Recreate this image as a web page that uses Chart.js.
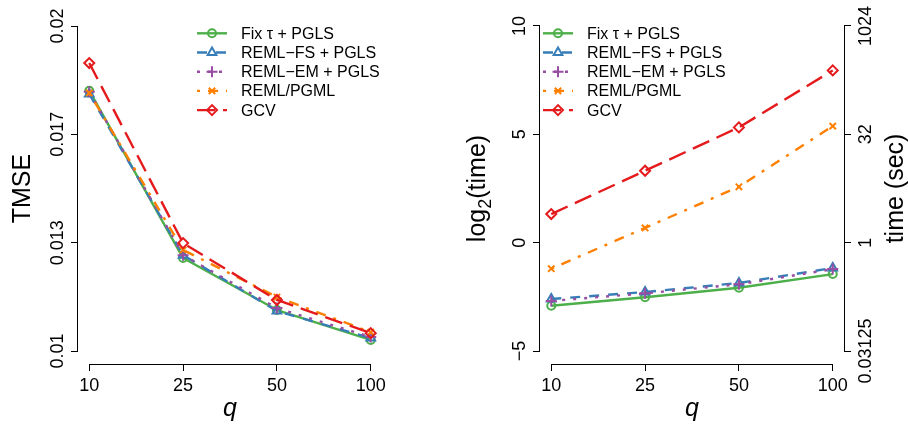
<!DOCTYPE html>
<html>
<head>
<meta charset="utf-8">
<script src="https://cdn.jsdelivr.net/npm/chart.js@4.4.0/dist/chart.umd.min.js"></script>
<style>
body { margin: 0; background: #fff; }
#wrap { position: relative; width: 908px; height: 424px; }
canvas { position: absolute; top: 0; }
</style>
</head>
<body>
<div id="wrap">
<canvas id="tmseChart" width="454" height="424" style="left:0"></canvas>
<canvas id="timeChart" width="454" height="424" style="left:454px"></canvas>
</div>
<script>
const FONT = '"Liberation Sans", Arial, Helvetica, sans-serif';

const qLabels = ['10', '25', '50', '100'];
const seriesNames = ['Fix \u03C4 + PGLS', 'REML\u2212FS + PGLS', 'REML\u2212EM + PGLS', 'REML/PGML', 'GCV'];
const seriesColors = ['#4DAF4A', '#377EB8', '#984EA3', '#FF7F00', '#E41A1C'];
const pointStyles = ['circle', 'triangle', 'cross', 'crossRot', 'rectRot'];
const pointSizes = [4, 5, 5.5, 4.5, 5];
const dashes = [[], [10, 9], [3, 8], [3, 8, 10, 8], [18, 8]];

// left panel: TMSE
const tmseFixTau = [0.01801, 0.01286, 0.01126, 0.01034];
const tmseRemlFs = [0.01791, 0.01295, 0.01123, 0.01040];
const tmseRemlEm = [0.01798, 0.01295, 0.01132, 0.01043];
const tmseRemlPgml = [0.01794, 0.01311, 0.01166, 0.01058];
const tmseGcv = [0.01886, 0.01332, 0.01157, 0.01055];
const tmseTickValues = [0.01, 0.0133333, 0.0166667, 0.02];
const tmseTickLabels = ['0.01', '0.013', '0.017', '0.02'];

// right panel: log2(time)
const timeFixTau = [-2.91, -2.52, -2.08, -1.45];
const timeRemlFs = [-2.60, -2.28, -1.86, -1.17];
const timeRemlEm = [-2.69, -2.34, -1.92, -1.22];
const timeRemlPgml = [-1.20, 0.68, 2.58, 5.38];
const timeGcv = [1.32, 3.32, 5.32, 7.95];
const logTickValues = [-5, 0, 5, 10];
const logTickLabels = ['\u22125', '0', '5', '10'];
const secTickLabels = ['0.03125', '1', '32', '1024'];


function makeDatasets(allValues) {
    return allValues.map((values, i) => ({
        label: seriesNames[i],
        data: values.map((v, j) => ({ x: j, y: v })),
        borderColor: seriesColors[i],
        backgroundColor: 'rgba(0,0,0,0)',
        borderWidth: 2.4,
        borderDash: dashes[i],
        borderCapStyle: 'butt',
        borderJoinStyle: 'round',
        pointStyle: pointStyles[i],
        pointRadius: pointSizes[i],
        pointBorderWidth: 2,
        pointBorderColor: seriesColors[i],
        pointBackgroundColor: 'rgba(0,0,0,0)',
        tension: 0,
        order: allValues.length - i
    }));
}

function yAxis(position, width, min, max, tickValues, tickLabels) {
    return {
        type: 'linear',
        position: position,
        min: min,
        max: max,
        afterBuildTicks: (scale) => { scale.ticks = tickValues.map(v => ({ value: v })); },
        afterFit: (scale) => { scale.width = width; scale.paddingTop = 0; scale.paddingBottom = 0; },
        ticks: { display: false, callback: (v, i) => tickLabels[i] },
        grid: { drawOnChartArea: false, drawTicks: true, tickLength: 7, color: '#000', lineWidth: 1 },
        border: { display: false }
    };
}

function xAxis() {
    return {
        type: 'linear',
        min: -0.12,
        max: 3.12,
        afterBuildTicks: (scale) => { scale.ticks = qLabels.map((q, i) => ({ value: i })); },
        afterFit: (scale) => { scale.height = 60; scale.paddingLeft = 0; scale.paddingRight = 0; },
        ticks: {
            callback: (v, i) => qLabels[i],
            color: '#000',
            font: { family: FONT, size: 18 },
            padding: 4,
            maxRotation: 0,
            autoSkip: false
        },
        grid: { drawOnChartArea: false, drawTicks: true, tickLength: 7, color: '#000', lineWidth: 1 },
        border: { display: false }
    };
}

function rotatedText(ctx, text, x, y) {
    ctx.save();
    ctx.translate(x, y);
    ctx.rotate(-Math.PI / 2);
    ctx.textAlign = 'center';
    ctx.textBaseline = 'alphabetic';
    ctx.fillText(text, 0, 0);
    ctx.restore();
}

// R-like axes, titles and legend
const rStyle = {
    id: 'rStyle',
    afterDraw(chart, args, opts) {
        const ctx = chart.ctx;
        const area = chart.chartArea;
        const cy = (area.top + area.bottom) / 2;
        ctx.save();
        ctx.strokeStyle = '#000';
        ctx.fillStyle = '#000';
        ctx.lineWidth = 1;
        ctx.setLineDash([]);

        const xs = chart.scales.x;
        const yb = Math.round(area.bottom) + 0.5;
        ctx.beginPath();
        ctx.moveTo(xs.getPixelForValue(xs.ticks[0].value), yb);
        ctx.lineTo(xs.getPixelForValue(xs.ticks[xs.ticks.length - 1].value), yb);
        ctx.stroke();

        ctx.font = '18px ' + FONT;
        ['y', 'y2'].forEach(id => {
            const s = chart.scales[id];
            if (!s) return;
            const left = id === 'y';
            const ax = left ? Math.round(area.left) - 0.5 : Math.round(area.right) + 0.5;
            ctx.beginPath();
            ctx.moveTo(ax, s.getPixelForValue(s.ticks[0].value));
            ctx.lineTo(ax, s.getPixelForValue(s.ticks[s.ticks.length - 1].value));
            ctx.stroke();
            s.ticks.forEach(t => {
                const y = s.getPixelForValue(t.value);
                rotatedText(ctx, t.label, left ? area.left - 15 : area.right + 27, y);
            });
        });

        // axis titles
        ctx.font = '25px ' + FONT;
        if (opts.yTitle) rotatedText(ctx, opts.yTitle, opts.yTitleX, cy);
        if (opts.y2Title) rotatedText(ctx, opts.y2Title, opts.y2TitleX, cy);
        if (opts.logTitle) {
            const bigFont = '25px ' + FONT;
            const smallFont = '18px ' + FONT;
            ctx.font = bigFont;
            const w1 = ctx.measureText('log').width;
            const w3 = ctx.measureText('(time)').width;
            ctx.font = smallFont;
            const w2 = ctx.measureText('2').width;
            let pos = -(w1 + w2 + w3) / 2;
            ctx.save();
            ctx.translate(opts.yTitleX, cy);
            ctx.rotate(-Math.PI / 2);
            ctx.textAlign = 'left';
            ctx.textBaseline = 'alphabetic';
            ctx.font = bigFont;
            ctx.fillText('log', pos, 0);
            pos += w1;
            ctx.font = smallFont;
            ctx.fillText('2', pos, 6);
            pos += w2;
            ctx.font = bigFont;
            ctx.fillText('(time)', pos, 0);
            ctx.restore();
        }
        ctx.font = 'italic 25px ' + FONT;
        ctx.textAlign = 'center';
        ctx.textBaseline = 'alphabetic';
        ctx.fillText('q', (area.left + area.right) / 2, 416);

        // legend
        ctx.font = '16px ' + FONT;
        ctx.textAlign = 'left';
        ctx.textBaseline = 'middle';
        seriesNames.forEach((name, i) => {
            const y = 33.3 + i * 19.2;
            const x0 = opts.legendX;
            ctx.save();
            ctx.strokeStyle = seriesColors[i];
            ctx.lineWidth = 2.4;
            ctx.lineCap = 'butt';
            ctx.setLineDash(dashes[i]);
            ctx.beginPath();
            ctx.moveTo(x0, y);
            ctx.lineTo(x0 + 30, y);
            ctx.stroke();
            ctx.setLineDash([]);
            ctx.lineWidth = 2;
            ctx.fillStyle = 'rgba(0,0,0,0)';
            Chart.helpers.drawPoint(ctx, { pointStyle: pointStyles[i], radius: pointSizes[i], borderWidth: 2, rotation: 0 }, x0 + 15, y);
            ctx.restore();
            ctx.fillStyle = '#000';
            ctx.fillText(name, x0 + 44, y + 1);
        });
        ctx.restore();
    }
};

new Chart(document.getElementById('tmseChart').getContext('2d'), {
    type: 'line',
    data: { datasets: makeDatasets([tmseFixTau, tmseRemlFs, tmseRemlEm, tmseRemlPgml, tmseGcv]) },
    options: {
        responsive: false,
        animation: false,
        layout: { padding: { top: 13, right: 72, left: 0, bottom: 0 } },
        scales: {
            x: xAxis(),
            y: yAxis('left', 78, 0.0096, 0.0204, tmseTickValues, tmseTickLabels)
        },
        plugins: {
            legend: { display: false },
            tooltip: { enabled: false },
            rStyle: { yTitle: 'TMSE', yTitleX: 30, legendX: 197 }
        }
    },
    plugins: [rStyle]
});

new Chart(document.getElementById('timeChart').getContext('2d'), {
    type: 'line',
    data: { datasets: makeDatasets([timeFixTau, timeRemlFs, timeRemlEm, timeRemlPgml, timeGcv]) },
    options: {
        responsive: false,
        animation: false,
        layout: { padding: { top: 13, right: 0, left: 0, bottom: 0 } },
        scales: {
            x: xAxis(),
            y: yAxis('left', 86, -5.6, 10.6, logTickValues, logTickLabels),
            y2: yAxis('right', 64, -5.6, 10.6, logTickValues, secTickLabels)
        },
        plugins: {
            legend: { display: false },
            tooltip: { enabled: false },
            rStyle: { logTitle: true, yTitleX: 31, y2Title: 'time (sec)', y2TitleX: 449, legendX: 89 }
        }
    },
    plugins: [rStyle]
});
</script>
</body>
</html>
